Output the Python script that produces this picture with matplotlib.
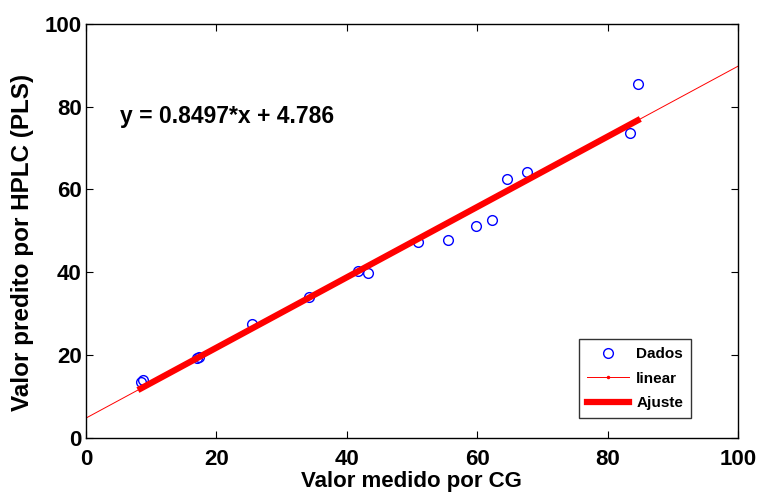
import numpy as np
import matplotlib.pyplot as plt

plt.rcParams['font.family'] = ['Liberation Sans', 'DejaVu Sans']
plt.rcParams['font.weight'] = 'bold'

# Measured (CG) vs predicted (HPLC/PLS)
medido = [8.4, 8.7, 17.0, 17.3, 25.4, 34.2, 41.8, 43.3, 51.0, 55.5,
          59.9, 62.3, 64.6, 67.6, 83.4, 84.6]
predito = [13.4, 14.1, 19.2, 19.6, 27.5, 34.0, 40.4, 39.9, 47.4, 47.7,
           51.2, 52.6, 62.5, 64.1, 73.7, 85.4]

# fitted coefficients (shown in the figure)
slope = 0.8497
intercept = 4.786

fig = plt.figure(figsize=(7.6, 4.96), dpi=100)
ax = fig.add_axes([0.113, 0.117, 0.858, 0.835])

xl = np.array([0, 100])
xf = np.array([min(medido), max(medido)])

ax.plot(medido, predito, 'o', mfc='none', mec='blue', ms=7, mew=1, label='Dados')
ax.plot(xl, slope * xl + intercept, '-', color='red', lw=0.7,
        marker='.', markevery=[], label='linear')
ax.plot(xf, slope * xf + intercept, '-', color='red', lw=4.5, label='Ajuste')

ax.text(5.2, 77.6, 'y = 0.8497*x + 4.786', fontsize=16.5, fontweight='bold',
        va='center', ha='left')

ax.set_xlim(0, 100)
ax.set_ylim(0, 100)
ax.set_xticks(range(0, 101, 20))
ax.set_yticks(range(0, 101, 20))
ax.tick_params(direction='in', top=True, right=True, length=5,
               labelsize=16, width=0.8)
ax.tick_params(axis='x', pad=8)
ax.tick_params(axis='y', pad=3)
for lab in ax.get_xticklabels() + ax.get_yticklabels():
    lab.set_fontweight('bold')
for s in ax.spines.values():
    s.set_linewidth(1.0)

ax.set_xlabel('Valor medido por CG', fontsize=16, fontweight='bold', labelpad=1)
ax.set_ylabel('Valor predito por HPLC (PLS)', fontsize=17.5, fontweight='bold')
ax.yaxis.set_label_coords(-0.08, 0.473)

leg = ax.legend(loc='upper left', bbox_to_anchor=(0.756, 0.239), fontsize=11,
                frameon=True, fancybox=False, edgecolor='black',
                handlelength=2.75, handletextpad=0.45, borderpad=0.55,
                labelspacing=0.67, borderaxespad=0)
leg.get_frame().set_linewidth(1)
# small dot on the 'linear' legend line
leg.legend_handles[1].set_marker('.')
leg.legend_handles[1].set_markersize(3)

plt.savefig('out.png', dpi=100)
